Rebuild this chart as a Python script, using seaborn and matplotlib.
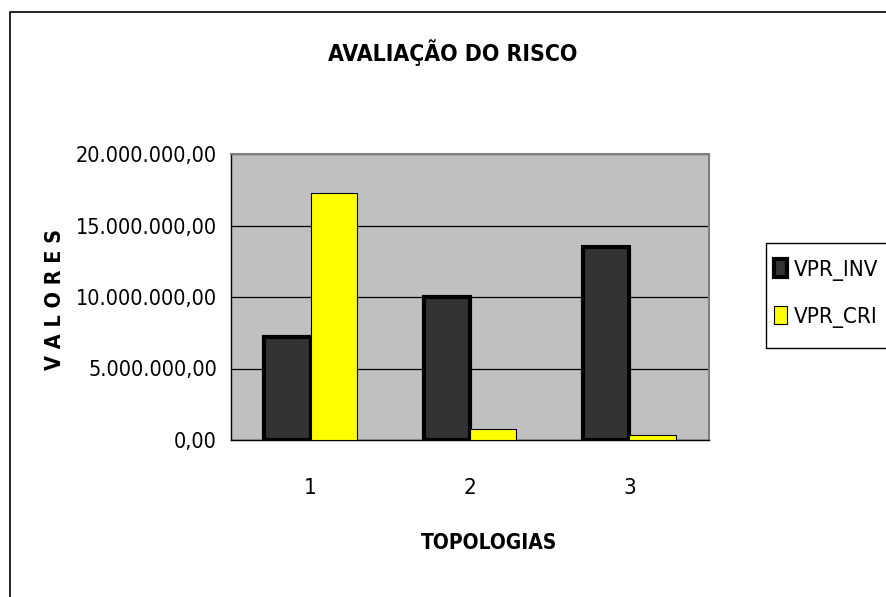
import pandas as pd
import matplotlib.pyplot as plt
import seaborn as sns
from matplotlib.patches import Rectangle
from matplotlib.ticker import FuncFormatter

# -----------------------------
# Data
# -----------------------------
topologias = ["1", "2", "3"]
vpr_inv = [7200000, 9980000, 13470000]
vpr_cri = [17300000, 790000, 370000]

df = pd.DataFrame({
    "topologia": topologias * 2,
    "valor": vpr_inv + vpr_cri,
    "serie": ["VPR_INV"] * 3 + ["VPR_CRI"] * 3,
})

sns.set_style("white")
plt.rcParams["font.family"] = ["DejaVu Sans"]
plt.rcParams["font.stretch"] = "condensed"
plt.rcParams["text.color"] = "black"
plt.rcParams["xtick.color"] = "black"
plt.rcParams["ytick.color"] = "black"

fig = plt.figure(figsize=(8.87, 5.97), dpi=100)
ax = fig.add_axes([231 / 887, 1 - 440 / 597, 478 / 887, 286 / 597])

sns.barplot(data=df, x="topologia", y="valor", hue="serie",
            palette={"VPR_INV": "#333333", "VPR_CRI": "#FFFF00"}, saturation=1,
            width=0.58, gap=0, ax=ax, legend=False, zorder=3)

# bar edges: thick black on the dark series, thin on the yellow one
for bar in ax.containers[0]:
    bar.set_edgecolor("black")
    bar.set_linewidth(3)
for bar in ax.containers[1]:
    bar.set_edgecolor("black")
    bar.set_linewidth(0.8)

ax.set_facecolor("#C0C0C0")
ax.set_ylim(0, 20000000)
ax.set_xlim(-0.5, 2.5)
ax.set_yticks([0, 5000000, 10000000, 15000000, 20000000])
ax.yaxis.set_major_formatter(FuncFormatter(
    lambda v, p: f"{v:,.2f}".replace(",", "X").replace(".", ",").replace("X", ".")))
ax.grid(axis="y", color="black", lw=0.9, zorder=1)
ax.set_axisbelow(True)

ax.set_xticks([0, 1, 2])
ax.set_xticklabels(topologias)
ax.set_xticks([-0.5, 0.5, 1.5, 2.5], minor=True)
ax.tick_params(axis="x", which="major", length=0, pad=27, labelsize=16)
ax.tick_params(axis="x", which="minor", length=8, width=1, color="black", direction="out")
ax.tick_params(axis="y", length=6, width=1, color="black", direction="out", labelsize=15.5, pad=4)

for s in ["left", "bottom"]:
    ax.spines[s].set_color("black")
    ax.spines[s].set_linewidth(1)
for s in ["top", "right"]:
    ax.spines[s].set_color("#808080")
    ax.spines[s].set_linewidth(1.5)

ax.set_xlabel("")
ax.set_ylabel("")
fig.text(453 / 887, 1 - 53 / 597, "AVALIAÇÃO DO RISCO", ha="center", va="center",
         fontsize=16.5, fontweight="bold")
fig.text(489 / 887, 1 - 543 / 597, "TOPOLOGIAS", ha="center", va="center",
         fontsize=15, fontweight="bold")
fig.text(55 / 887, 1 - 299 / 597, "V A L O R E S", ha="center", va="center",
         rotation=90, fontsize=15.5, fontweight="bold")

# legend (frame drawn separately)
fig.patches.append(Rectangle((766 / 887, 1 - 348 / 597), 0.5, 105 / 597,
                             transform=fig.transFigure, fill=False,
                             edgecolor="black", lw=1))
handles = [
    Rectangle((0, 0), 1, 1, facecolor="#333333", edgecolor="black", lw=3),
    Rectangle((0, 0), 1, 1, facecolor="#FFFF00", edgecolor="black", lw=0.8),
]
leg = fig.legend(handles, ["VPR_INV", "VPR_CRI"], loc="upper left",
                 bbox_to_anchor=(774 / 887, 1 - 259 / 597), bbox_transform=fig.transFigure,
                 frameon=False, fontsize=16, handlelength=0.6,
                 handleheight=0.85, handletextpad=0.3, labelspacing=1.15,
                 borderpad=0, borderaxespad=0)

# outer chart frame
fig.patches.append(Rectangle((10 / 887, -0.1), 1.2, 1 - 12 / 597 + 0.1,
                             transform=fig.transFigure, fill=False,
                             edgecolor="black", lw=1.2))

fig.savefig("out.png", dpi=100)
